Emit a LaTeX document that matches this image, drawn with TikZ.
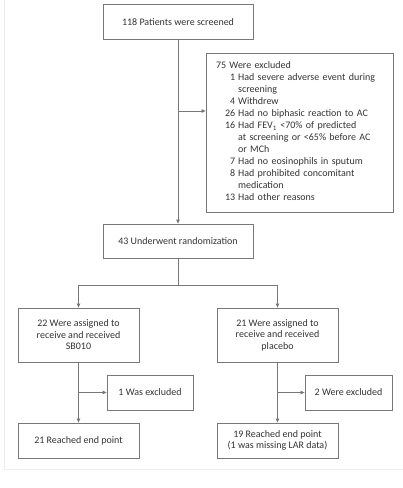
\documentclass[tikz,border=0pt]{standalone}
\usepackage{fontspec}
\setmainfont{Carlito}
\usetikzlibrary{arrows.meta}
\definecolor{linec}{HTML}{777777}
\definecolor{textc}{HTML}{333333}
\begin{document}
\begin{tikzpicture}[x=1pt,y=-1pt,
  box/.style={draw=linec, line width=0.8pt, text=textc, align=center, inner sep=0pt,
    font=\fontsize{10}{11.5}\selectfont},
  conn/.style={draw=linec, line width=0.8pt},
  arr/.style={conn, -{Triangle[length=4pt,width=3.5pt]}}]
\useasboundingbox (0,0) rectangle (403,488);
\draw[black!7] (4,-2) rectangle (410,469);
% boxes
\node[box, minimum width=150pt, minimum height=35pt] (scr) at (178,22) {118 Patients were screened};
\node[box, minimum width=187pt, minimum height=159pt, text width=187pt, align=left,
  font=\fontsize{10}{12}\selectfont] (excl) at (299.5,132.5) {\hspace{10pt}%
\begin{tabular}{@{\hspace{9pt}}r@{\hspace{3pt}}l@{}}
\multicolumn{2}{@{}l@{}}{75 Were excluded}\\
1 & Had severe adverse event during\\
 & screening\\
4 & Withdrew\\
26 & Had no biphasic reaction to AC\\
16 & Had FEV\textsubscript{1} <70\% of predicted\\
 & at screening or <65\% before AC\\
 & or MCh\\
7 & Had no eosinophils in sputum\\
8 & Had prohibited concomitant\\
 & medication\\
13 & Had other reasons
\end{tabular}};
\node[box, minimum width=150pt, minimum height=34pt] (rand) at (178,241) {43 Underwent randomization};
\node[box, minimum width=121pt, minimum height=54pt] (asg1) at (78.5,335) {22 Were assigned to\\receive and received\\SB010};
\node[box, minimum width=121pt, minimum height=54pt] (asg2) at (277.5,335) {21 Were assigned to\\receive and received\\placebo};
\node[box, minimum width=86pt, minimum height=35pt] (ex1) at (150,392.5) {1 Was excluded};
\node[box, minimum width=87pt, minimum height=35pt] (ex2) at (348.5,392.5) {2 Were excluded};
\node[box, minimum width=121pt, minimum height=35pt] (end1) at (78.5,440.5) {21 Reached end point};
\node[box, minimum width=121pt, minimum height=35pt] (end2) at (277.5,440.5) {19 Reached end point\\(1 was missing LAR data)};
% connectors
\coordinate (j1) at (178,111);
\coordinate (sp) at (178,285);
\coordinate (b1) at (78.5,392.5);
\coordinate (b2) at (277.5,392.5);
\draw[arr] (scr) -- (rand);
\draw[arr] (j1) -- (j1 -| excl.west);
\draw[conn] (rand) -- (sp);
\draw[arr] (sp) -| (asg1);
\draw[arr] (sp) -| (asg2);
\draw[arr] (asg1) -- (end1);
\draw[arr] (asg2) -- (end2);
\draw[arr] (b1) -- (ex1);
\draw[arr] (b2) -- (ex2);
\end{tikzpicture}
\end{document}
